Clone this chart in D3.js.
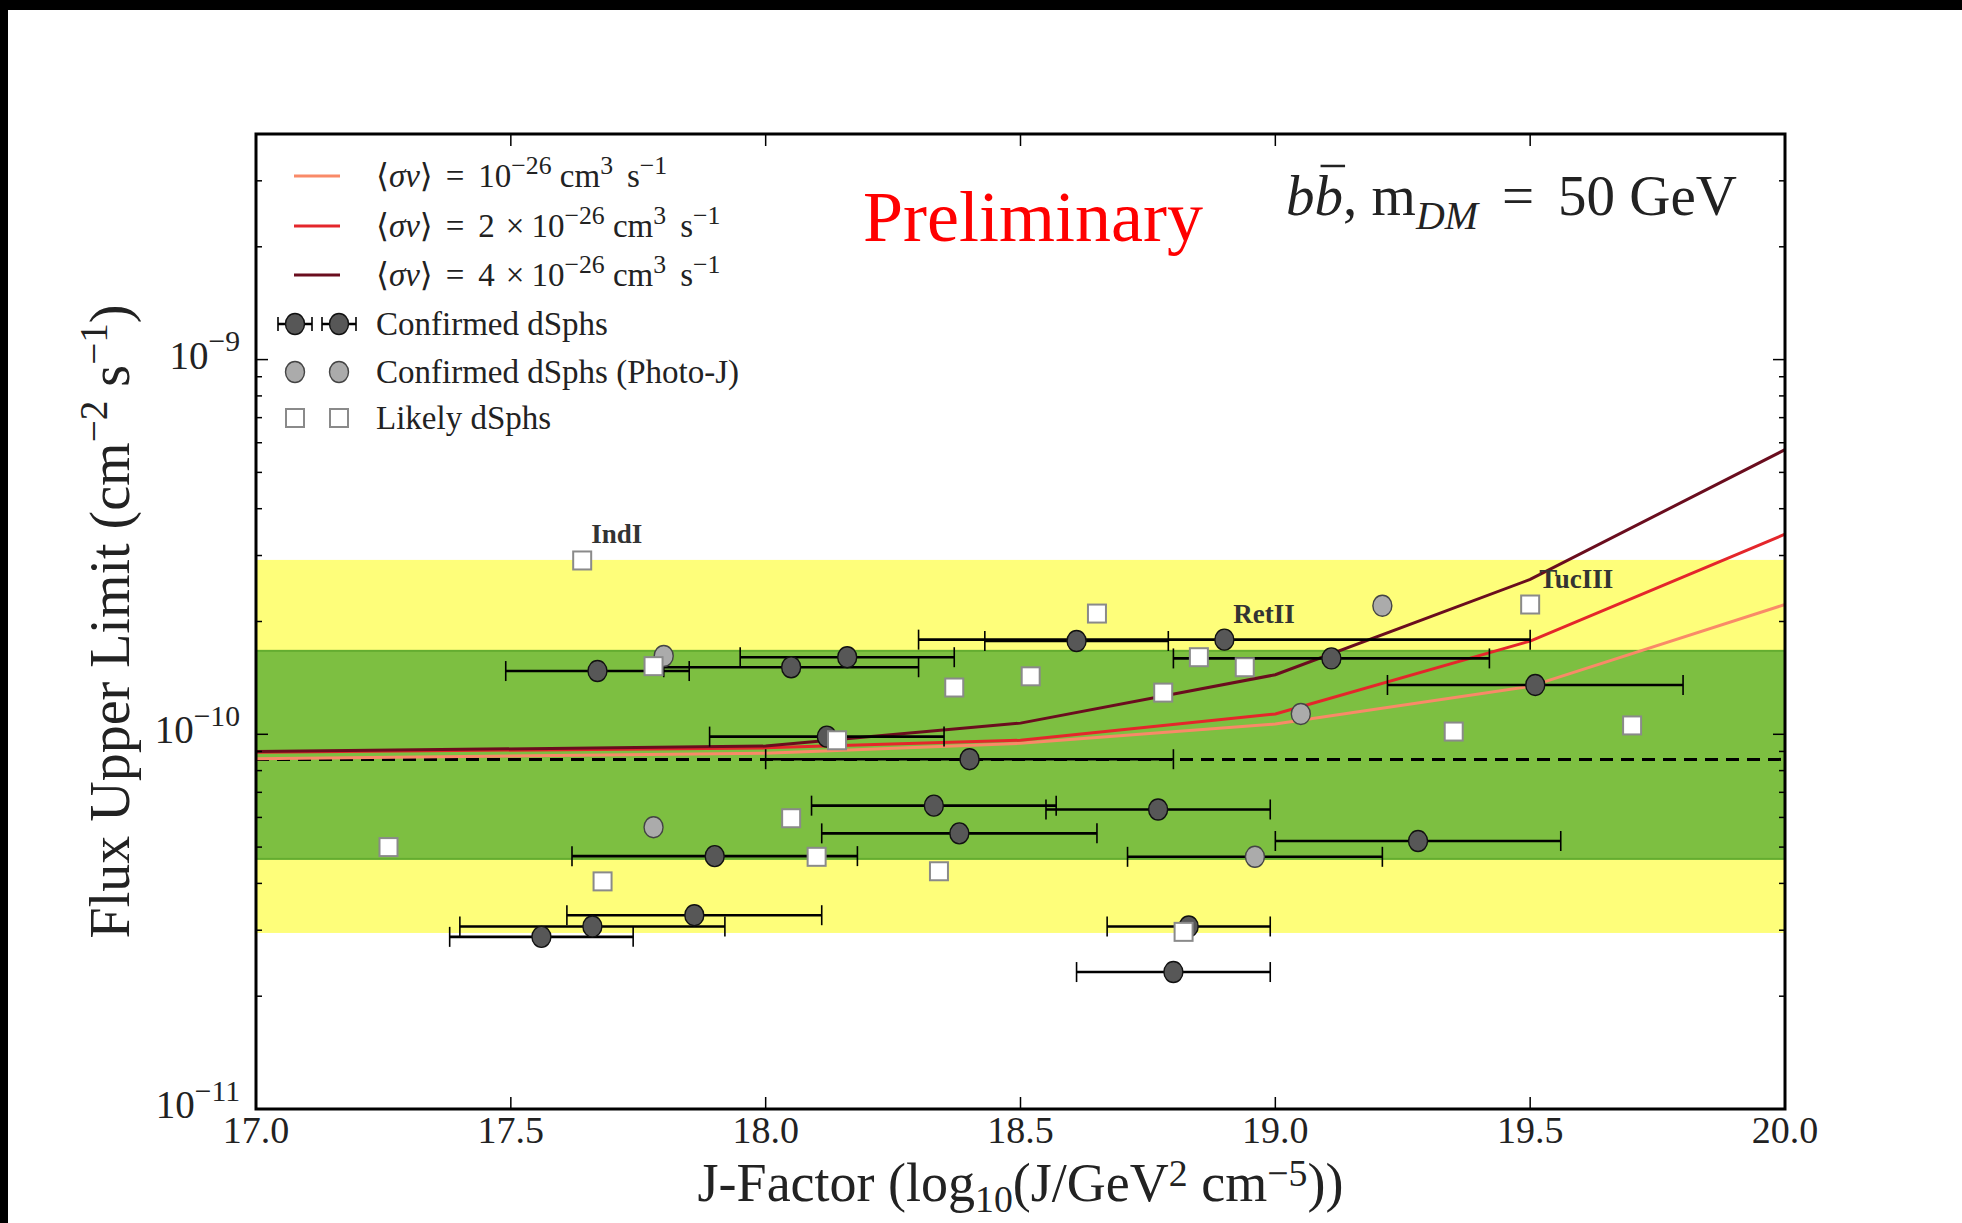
<!DOCTYPE html>
<html>
<head>
<meta charset="utf-8">
<script src="https://cdn.jsdelivr.net/npm/d3@7"></script>
<style>
  body { margin: 0; background: #fff; }
  svg text { font-family: "Liberation Serif", "DejaVu Serif", serif; white-space: pre; }
</style>
</head>
<body>
<svg id="chart"></svg>
<script>
// --- data ---
const xTicks = [17.0, 17.5, 18.0, 18.5, 19.0, 19.5, 20.0];
const yMajor = [1e-11, 1e-10, 1e-9];
const yMajorLabels = ["−11", "−10", "−9"];

// expected flux curves vs J-factor
const curveJ = [17.0, 18.0, 18.5, 19.0, 19.5, 20.0];
const flux1 = [8.6e-11, 8.9e-11, 9.46e-11, 1.065e-10, 1.343e-10, 2.22e-10];
const flux2 = [8.95e-11, 9.2e-11, 9.64e-11, 1.133e-10, 1.774e-10, 3.42e-10];
const flux4 = [8.99e-11, 9.3e-11, 1.071e-10, 1.442e-10, 2.59e-10, 5.75e-10];

// expected-limit bands and median
const band95 = [2.95e-11, 2.92e-10];
const band68 = [4.65e-11, 1.67e-10];
const medianFlux = 8.57e-11;

// confirmed dSphs (J, J error, flux UL)
const confJ    = [17.67, 18.05, 18.16, 18.61, 18.90, 19.11, 19.51, 18.12, 18.40, 18.33, 18.77, 18.38, 19.28, 17.90, 17.86, 17.66, 17.56, 18.83, 18.80];
const confJErr = [0.18, 0.25, 0.21, 0.18, 0.60, 0.31, 0.29, 0.23, 0.40, 0.24, 0.22, 0.27, 0.28, 0.28, 0.25, 0.26, 0.18, 0.16, 0.19];
const confFlux = [1.475e-10, 1.51e-10, 1.606e-10, 1.774e-10, 1.789e-10, 1.594e-10, 1.354e-10, 9.86e-11, 8.58e-11, 6.45e-11, 6.30e-11, 5.44e-11, 5.19e-11, 4.73e-11, 3.29e-11, 3.07e-11, 2.88e-11, 3.07e-11, 2.32e-11];

// confirmed dSphs with photometric J
const photoJ    = [17.80, 19.21, 19.05, 17.78, 18.96];
const photoJErr = [0, 0, 0, 0, 0.25];
const photoFlux = [1.618e-10, 2.204e-10, 1.133e-10, 5.65e-11, 4.71e-11];

// likely dSphs
const likelyJ    = [17.64, 17.78, 18.14, 18.65, 18.37, 18.52, 18.78, 18.85, 18.94, 19.50, 19.35, 19.70, 17.26, 17.68, 18.05, 18.10, 18.34, 18.82];
const likelyFlux = [2.91e-10, 1.52e-10, 9.64e-11, 2.10e-10, 1.333e-10, 1.428e-10, 1.292e-10, 1.606e-10, 1.51e-10, 2.22e-10, 1.017e-10, 1.056e-10, 5.0e-11, 4.05e-11, 5.97e-11, 4.71e-11, 4.31e-11, 2.97e-11];

// named objects
const labelNames = ["IndI", "RetII", "TucIII"];
const labelJ     = [17.64, 18.90, 19.50];
const labelFlux  = [2.91e-10, 1.789e-10, 2.22e-10];

// --- layout ---
const W = 1962, H = 1223;
const M = { left: 256, right: 1785, top: 134, bottom: 1109 };

const COL_1 = "#f98a68", COL_2 = "#e4262b", COL_4 = "#6a0d1e";

const svg = d3.select("#chart").attr("width", W).attr("height", H);

// black scan edges
svg.append("rect").attr("x", 0).attr("y", 0).attr("width", W).attr("height", 10).attr("fill", "#000");
svg.append("rect").attr("x", 0).attr("y", 0).attr("width", 8).attr("height", H).attr("fill", "#000");

const x = d3.scaleLinear().domain([17, 20]).range([M.left, M.right]);
const y = d3.scaleLog().domain([1e-11, 4e-9]).range([M.bottom, M.top]);

// math-like text: parts are strings or [text, kind, dx]
function mathText(sel, parts, size, supShift = 0.4, scale = 0.7, subShift = 0.24) {
  let off = 0;
  parts.forEach(p => {
    const [str, kind = "", dx = 0] = typeof p === "string" ? [p] : p;
    const target = kind.includes("sup") ? -supShift * size : kind.includes("sub") ? subShift * size : 0;
    const ts = sel.append("tspan").attr("dy", target - off).text(str);
    if (dx) ts.attr("dx", dx);
    if (target !== 0) ts.attr("font-size", size * scale);
    if (kind.includes("it")) ts.attr("font-style", "italic");
    off = target;
  });
  return sel;
}

// Bands
const plot = svg.append("g");
plot.append("rect")
  .attr("x", M.left).attr("width", M.right - M.left)
  .attr("y", y(band95[1])).attr("height", y(band95[0]) - y(band95[1]))
  .attr("fill", "#fefe7a");
plot.append("rect")
  .attr("x", M.left).attr("width", M.right - M.left)
  .attr("y", y(band68[1])).attr("height", y(band68[0]) - y(band68[1]))
  .attr("fill", "#7dbf41").attr("stroke", "#64ad30").attr("stroke-width", 2);

// Median
plot.append("line")
  .attr("x1", M.left).attr("x2", M.right)
  .attr("y1", y(medianFlux)).attr("y2", y(medianFlux))
  .attr("stroke", "#000").attr("stroke-width", 3).attr("stroke-dasharray", "13,8");

// Curves
const line = d3.line().x(d => x(d[0])).y(d => y(d[1]));
[[flux1, COL_1], [flux2, COL_2], [flux4, COL_4]].forEach(([f, c]) => {
  plot.append("path")
    .datum(d3.zip(curveJ, f))
    .attr("d", line)
    .attr("fill", "none").attr("stroke", c).attr("stroke-width", 3);
});

// Error bars
function errBar(g, lo, hi, cy, cap) {
  g.append("line").attr("x1", lo).attr("x2", hi).attr("y1", cy).attr("y2", cy)
    .attr("stroke", "#000").attr("stroke-width", 2.6);
  [lo, hi].forEach(ex => {
    g.append("line").attr("x1", ex).attr("x2", ex).attr("y1", cy - cap).attr("y2", cy + cap)
      .attr("stroke", "#000").attr("stroke-width", 1.6);
  });
}

const RX = 9.5, RY = 10.5;
const pts = svg.append("g");
confJ.forEach((j, i) => {
  errBar(pts, x(j - confJErr[i]), x(j + confJErr[i]), y(confFlux[i]), 10);
});
confJ.forEach((j, i) => {
  pts.append("ellipse").attr("cx", x(j)).attr("cy", y(confFlux[i]))
    .attr("rx", RX).attr("ry", RY)
    .attr("fill", "#575757").attr("stroke", "#111").attr("stroke-width", 1.4);
});

photoJ.forEach((j, i) => {
  if (photoJErr[i] > 0) errBar(pts, x(j - photoJErr[i]), x(j + photoJErr[i]), y(photoFlux[i]), 10);
  pts.append("ellipse").attr("cx", x(j)).attr("cy", y(photoFlux[i]))
    .attr("rx", RX).attr("ry", RY)
    .attr("fill", "#ababab").attr("stroke", "#444").attr("stroke-width", 1.4);
});

likelyJ.forEach((j, i) => {
  pts.append("rect").attr("x", x(j) - 9).attr("y", y(likelyFlux[i]) - 9)
    .attr("width", 18).attr("height", 18)
    .attr("fill", "#fff").attr("stroke", "#8a8a8a").attr("stroke-width", 2);
});

// Object names
labelNames.forEach((n, i) => {
  svg.append("text")
    .attr("x", x(labelJ[i]) + 9).attr("y", y(labelFlux[i]) - 17)
    .attr("font-size", 27).attr("fill", "#333").attr("font-weight", "bold")
    .text(n);
});

// Ticks
const ax = svg.append("g").attr("stroke", "#000").attr("stroke-width", 1.5);
xTicks.forEach(t => {
  ax.append("line").attr("x1", x(t)).attr("x2", x(t)).attr("y1", M.bottom).attr("y2", M.bottom - 12);
  ax.append("line").attr("x1", x(t)).attr("x2", x(t)).attr("y1", M.top).attr("y2", M.top + 12);
});
const yMinor = [];
[-11, -10, -9].forEach(e => d3.range(2, 10).forEach(k => {
  const v = k * Math.pow(10, e);
  if (v < 4e-9) yMinor.push(v);
}));
yMajor.forEach(v => {
  ax.append("line").attr("x1", M.left).attr("x2", M.left + 12).attr("y1", y(v)).attr("y2", y(v));
  ax.append("line").attr("x1", M.right).attr("x2", M.right - 12).attr("y1", y(v)).attr("y2", y(v));
});
yMinor.forEach(v => {
  ax.append("line").attr("x1", M.left).attr("x2", M.left + 6).attr("y1", y(v)).attr("y2", y(v));
  ax.append("line").attr("x1", M.right).attr("x2", M.right - 6).attr("y1", y(v)).attr("y2", y(v));
});

// Frame
svg.append("rect")
  .attr("x", M.left).attr("y", M.top)
  .attr("width", M.right - M.left).attr("height", M.bottom - M.top)
  .attr("fill", "none").attr("stroke", "#000").attr("stroke-width", 3);

// Tick labels
const fmt = d3.format(".1f");
xTicks.forEach(t => {
  svg.append("text").attr("x", x(t)).attr("y", M.bottom + 34)
    .attr("text-anchor", "middle").attr("font-size", 38).attr("fill", "#222")
    .text(fmt(t));
});
yMajor.forEach((v, i) => {
  const t = svg.append("text").attr("x", M.left - 16).attr("y", y(v) + 9)
    .attr("text-anchor", "end").attr("font-size", 39).attr("fill", "#222");
  mathText(t, ["10", [yMajorLabels[i], "sup"]], 39, 0.44, 0.76);
});

// Axis titles
const xl = svg.append("text")
  .attr("x", (M.left + M.right) / 2).attr("y", 1201)
  .attr("text-anchor", "middle").attr("font-size", 54).attr("fill", "#222");
mathText(xl, ["J-Factor (log", ["10", "sub"], "(J/GeV", ["2", "sup"], " cm", ["−5", "sup"], "))"], 54, 0.28, 0.7, 0.2);

const yl = svg.append("text")
  .attr("transform", `translate(129,${(M.top + M.bottom) / 2}) rotate(-90)`)
  .attr("text-anchor", "middle").attr("font-size", 56).attr("fill", "#222");
mathText(yl, ["Flux Upper Limit (cm", ["−2", "sup"], " s", ["−1", "sup"], ")"], 56);

// Annotations
svg.append("text").attr("x", 863).attr("y", 241)
  .attr("font-size", 72).attr("fill", "#ff0000").text("Preliminary");

const tt = svg.append("text").attr("x", 1737).attr("y", 215)
  .attr("text-anchor", "end").attr("font-size", 57).attr("fill", "#222");
mathText(tt, [["bb", "it"], ", m", ["DM", "subit"], ["=", "", 24], ["50 GeV", "", 24]], 57);
const bExt = tt.node().getExtentOfChar(1);
svg.append("line")
  .attr("x1", bExt.x + 6).attr("x2", bExt.x + bExt.width + 2)
  .attr("y1", 215 - 0.86 * 57).attr("y2", 215 - 0.86 * 57)
  .attr("stroke", "#222").attr("stroke-width", 2.5);

// Legend
const leg = svg.append("g");
const rowY = [176, 226, 275, 324, 372, 418];
const lgSize = 33;
const svTail = [["−26", "sup"], " cm", ["3", "sup"], ["s", "", 14], ["−1", "sup"]];
const lgText = [
  ["⟨", ["σv", "it"], "⟩", ["=", "", 13], ["10", "", 14], ...svTail],
  ["⟨", ["σv", "it"], "⟩", ["=", "", 13], ["2", "", 14], ["×", "", 11], ["10", "", 7], ...svTail],
  ["⟨", ["σv", "it"], "⟩", ["=", "", 13], ["4", "", 14], ["×", "", 11], ["10", "", 7], ...svTail],
  ["Confirmed dSphs"],
  ["Confirmed dSphs (Photo-J)"],
  ["Likely dSphs"]
];
[COL_1, COL_2, COL_4].forEach((c, i) => {
  leg.append("line").attr("x1", 294).attr("x2", 340).attr("y1", rowY[i]).attr("y2", rowY[i])
    .attr("stroke", c).attr("stroke-width", 3);
});
[295, 339].forEach(cx => {
  errBar(leg, cx - 17, cx + 17, rowY[3], 7);
  leg.append("ellipse").attr("cx", cx).attr("cy", rowY[3]).attr("rx", RX).attr("ry", RY)
    .attr("fill", "#575757").attr("stroke", "#111").attr("stroke-width", 1.4);
  leg.append("ellipse").attr("cx", cx).attr("cy", rowY[4]).attr("rx", RX).attr("ry", RY)
    .attr("fill", "#ababab").attr("stroke", "#444").attr("stroke-width", 1.4);
  leg.append("rect").attr("x", cx - 9).attr("y", rowY[5] - 9).attr("width", 18).attr("height", 18)
    .attr("fill", "#fff").attr("stroke", "#8a8a8a").attr("stroke-width", 2);
});
lgText.forEach((parts, i) => {
  const t = leg.append("text").attr("x", 376).attr("y", rowY[i] + 11)
    .attr("font-size", lgSize).attr("fill", "#222");
  mathText(t, parts, lgSize, 0.4, 0.78);
});
</script>
</body>
</html>
